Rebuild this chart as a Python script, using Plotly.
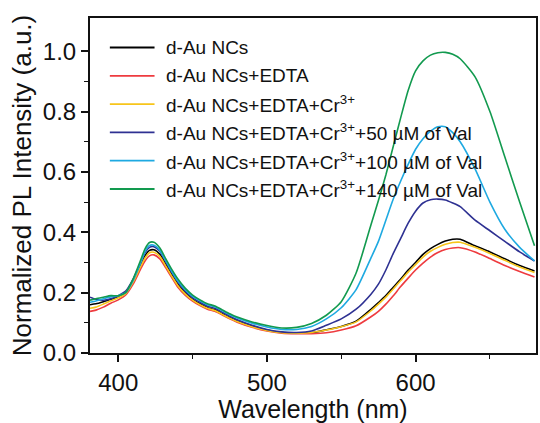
import plotly.graph_objects as go

# Emission wavelength grid (nm)
wavelength = [381, 385, 390, 395, 400, 405, 410, 415, 418, 421, 424, 428, 432, 436,
              440, 445, 450, 455, 460, 465, 470, 475, 480, 490, 500, 510, 520, 530,
              540, 550, 560, 570, 575, 580, 585, 590, 595, 600, 605, 610, 615, 620,
              625, 630, 640, 650, 660, 670, 680]

# Normalized PL intensity for each sample
au_ncs = [0.160, 0.163, 0.170, 0.178, 0.185, 0.200, 0.240, 0.293, 0.322, 0.340, 0.342, 0.327,
          0.294, 0.260, 0.229, 0.200, 0.178, 0.163, 0.150, 0.143, 0.130, 0.117, 0.106, 0.089,
          0.076, 0.068, 0.066, 0.067, 0.077, 0.088, 0.105, 0.145, 0.167, 0.190, 0.218, 0.245,
          0.275, 0.300, 0.327, 0.346, 0.360, 0.371, 0.377, 0.377, 0.355, 0.335, 0.312, 0.290, 0.272]

au_edta = [0.138, 0.142, 0.152, 0.165, 0.176, 0.192, 0.228, 0.278, 0.305, 0.322, 0.325, 0.312,
           0.282, 0.250, 0.219, 0.192, 0.172, 0.157, 0.145, 0.138, 0.126, 0.113, 0.102, 0.085,
           0.073, 0.066, 0.064, 0.064, 0.067, 0.076, 0.090, 0.120, 0.138, 0.162, 0.190, 0.220,
           0.248, 0.275, 0.298, 0.318, 0.333, 0.343, 0.348, 0.349, 0.335, 0.313, 0.290, 0.270, 0.252]

au_edta_cr = [0.148, 0.152, 0.162, 0.173, 0.183, 0.197, 0.235, 0.286, 0.315, 0.332, 0.334, 0.320,
              0.288, 0.255, 0.224, 0.196, 0.175, 0.160, 0.148, 0.141, 0.128, 0.115, 0.104, 0.087,
              0.075, 0.067, 0.066, 0.068, 0.076, 0.087, 0.103, 0.140, 0.162, 0.185, 0.212, 0.240,
              0.268, 0.293, 0.318, 0.337, 0.350, 0.360, 0.366, 0.367, 0.350, 0.330, 0.307, 0.285, 0.267]

val_50 = [0.185, 0.178, 0.175, 0.180, 0.190, 0.205, 0.245, 0.298, 0.332, 0.350, 0.352, 0.337,
          0.302, 0.267, 0.236, 0.205, 0.183, 0.168, 0.155, 0.148, 0.135, 0.122, 0.110, 0.092,
          0.078, 0.070, 0.068, 0.073, 0.092, 0.113, 0.145, 0.195, 0.228, 0.275, 0.330, 0.380,
          0.430, 0.470, 0.497, 0.508, 0.510, 0.507, 0.497, 0.485, 0.440, 0.405, 0.370, 0.335, 0.305]

val_100 = [0.168, 0.172, 0.180, 0.186, 0.190, 0.200, 0.240, 0.298, 0.336, 0.356, 0.357, 0.340,
           0.305, 0.270, 0.239, 0.210, 0.188, 0.173, 0.160, 0.153, 0.140, 0.127, 0.116, 0.099,
           0.086, 0.078, 0.078, 0.088, 0.113, 0.150, 0.210, 0.315, 0.370, 0.440, 0.510, 0.570,
           0.625, 0.675, 0.710, 0.735, 0.750, 0.750, 0.730, 0.700, 0.610, 0.500, 0.410, 0.350, 0.305]

val_140 = [0.175, 0.180, 0.185, 0.190, 0.190, 0.200, 0.245, 0.307, 0.345, 0.366, 0.367, 0.348,
           0.312, 0.277, 0.246, 0.215, 0.192, 0.176, 0.163, 0.156, 0.143, 0.130, 0.119, 0.103,
           0.091, 0.083, 0.085, 0.098, 0.125, 0.170, 0.265, 0.425, 0.505, 0.590, 0.685, 0.780,
           0.870, 0.935, 0.968, 0.987, 0.995, 0.996, 0.990, 0.975, 0.915, 0.800, 0.650, 0.500, 0.355]

series_names = [
    "d-Au NCs",
    "d-Au NCs+EDTA",
    "d-Au NCs+EDTA+Cr<sup>3+</sup>",
    "d-Au NCs+EDTA+Cr<sup>3+</sup>+50 µM of Val",
    "d-Au NCs+EDTA+Cr<sup>3+</sup>+100 µM of Val",
    "d-Au NCs+EDTA+Cr<sup>3+</sup>+140 µM of Val",
]
series_values = [au_ncs, au_edta, au_edta_cr, val_50, val_100, val_140]
series_colors = ["#000000", "#ee3b3f", "#f7c51a", "#2e3192", "#1ea9e1", "#129a4f"]

FONT = "Arial, 'Liberation Sans', Helvetica, sans-serif"

fig = go.Figure()
for name, vals, color in zip(series_names, series_values, series_colors):
    fig.add_trace(go.Scatter(
        x=wavelength, y=vals, mode="lines", name=name,
        line=dict(color=color, width=1.6, shape="spline", smoothing=0.6),
        showlegend=False,
    ))

# Legend block: short line sample + label per series
legend_top = 0.912   # paper y of first entry
legend_step = 0.0845
x0, x1, xt = 0.0445, 0.1447, 0.1670
for i, (name, color) in enumerate(zip(series_names, series_colors)):
    y = legend_top - i * legend_step
    fig.add_shape(type="line", xref="paper", yref="paper",
                  x0=x0, x1=x1, y0=y, y1=y,
                  line=dict(color=color, width=1.8))
    fig.add_annotation(xref="paper", yref="paper", x=xt, y=y,
                       text=name, showarrow=False, xanchor="left", yanchor="middle",
                       font=dict(family=FONT, size=19, color="#111111"))

axis_common = dict(
    showline=True, linecolor="#111111", linewidth=2, mirror=True,
    ticks="outside", ticklen=7, tickwidth=1.6, tickcolor="#111111",
    showgrid=False, zeroline=False,
    tickfont=dict(family=FONT, size=24, color="#111111"),
)

fig.update_xaxes(
    range=[381, 681], tickvals=[400, 500, 600],
    minor=dict(tickvals=[450, 550, 650], ticks="outside", ticklen=4,
               tickwidth=1.4, tickcolor="#111111", showgrid=False),
    title=dict(text="Wavelength (nm)", font=dict(family=FONT, size=25, color="#111111"),
               standoff=3),
    **axis_common,
)
fig.update_yaxes(
    range=[0, 1.11], tickvals=[0, 0.2, 0.4, 0.6, 0.8, 1.0], tickformat=".1f",
    minor=dict(tickvals=[0.1, 0.3, 0.5, 0.7, 0.9], ticks="outside", ticklen=4,
               tickwidth=1.4, tickcolor="#111111", showgrid=False),
    title=dict(text="Normalized PL Intensity (a.u.)",
               font=dict(family=FONT, size=26, color="#111111"), standoff=4),
    **axis_common,
)

fig.update_layout(
    width=540, height=423,
    margin=dict(l=90, r=2, t=18, b=70),
    plot_bgcolor="white", paper_bgcolor="white",
)

fig.write_html("out.html")
